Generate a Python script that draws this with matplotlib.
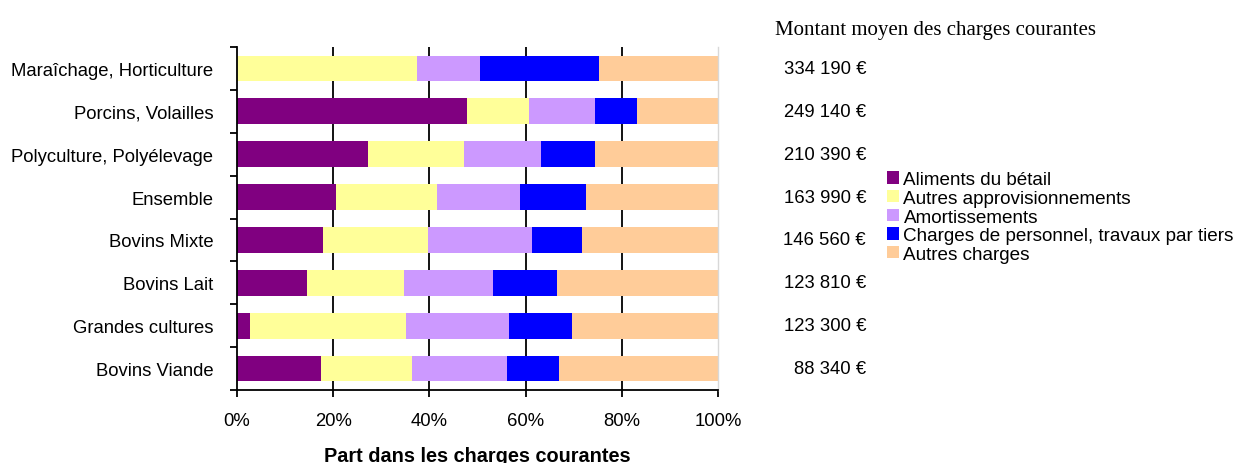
import numpy as np
import matplotlib.pyplot as plt
from matplotlib.ticker import FixedLocator, PercentFormatter

plt.rcParams['font.family'] = ['Liberation Sans', 'DejaVu Sans']

# bottom to top
categories = ['Bovins Viande', 'Grandes cultures', 'Bovins Lait', 'Bovins Mixte',
              'Ensemble', 'Polyculture, Polyélevage', 'Porcins, Volailles',
              'Maraîchage, Horticulture']
montants = ['88 340 €', '123 300 €', '123 810 €', '146 560 €',
            '163 990 €', '210 390 €', '249 140 €', '334 190 €']

aliments = [17.5, 2.7, 14.6, 17.9, 20.6, 27.2, 47.8, 0.0]
autres_appro = [18.9, 32.4, 20.1, 21.8, 21.0, 20.0, 12.9, 37.4]
amortissements = [19.7, 21.4, 18.5, 21.6, 17.2, 16.0, 13.7, 13.1]
personnel = [10.8, 13.1, 13.3, 10.4, 13.8, 11.2, 8.8, 24.8]
autres_charges = [33.1, 30.4, 33.5, 28.3, 27.4, 25.6, 16.8, 24.7]

series = [
    ('Aliments du bétail', aliments, '#800080'),
    ('Autres approvisionnements', autres_appro, '#FFFF99'),
    ('Amortissements', amortissements, '#CC99FF'),
    ('Charges de personnel, travaux par tiers', personnel, '#0000FF'),
    ('Autres charges', autres_charges, '#FFCC99'),
]

fs = 13.3

fig = plt.figure(figsize=(12.52, 4.64), dpi=100)
ax = fig.add_axes([0.1893, 0.1573, 0.3842, 0.7392])

y = np.arange(len(categories))
left = np.zeros(len(categories))
handles = []
for name, vals, col in series:
    vals = np.array(vals)
    b = ax.barh(y, vals, left=left, height=0.6, color=col, label=name, zorder=2)
    handles.append(b)
    left += vals

ax.set_xlim(0, 100)
ax.set_ylim(-0.5, len(categories) - 0.5)

# vertical grid lines behind the bars
for gx in [20, 40, 60, 80]:
    ax.axvline(gx, color='black', lw=1.3, zorder=1)

ax.spines['top'].set_visible(False)
ax.spines['right'].set_color('#d8d8d8')
ax.spines['right'].set_linewidth(1.0)
ax.spines['left'].set_linewidth(1.3)
ax.spines['bottom'].set_linewidth(1.3)

ax.xaxis.set_major_locator(FixedLocator([0, 20, 40, 60, 80, 100]))
ax.xaxis.set_major_formatter(PercentFormatter(decimals=0))
ax.tick_params(axis='x', direction='out', length=5, width=1.3, pad=11, labelsize=fs)

ax.set_yticks(y)
ax.set_yticklabels(categories)
ax.yaxis.set_minor_locator(FixedLocator(np.arange(-0.5, len(categories), 1.0)))
ax.tick_params(axis='y', which='major', length=0, pad=17, labelsize=fs)
ax.tick_params(axis='y', which='minor', length=5, width=1.3, direction='out')

ax.set_xlabel('Part dans les charges courantes', fontsize=14.3, fontweight='bold', labelpad=12)

for yi, m in zip(y, montants):
    ax.text(1.3077, yi, m, transform=ax.get_yaxis_transform(), ha='right', va='center',
            fontsize=fs)

fig.text(0.619, 0.935, 'Montant moyen des charges courantes', family='Liberation Serif',
         fontsize=15, ha='left', va='center')

fig.legend(handles=handles, loc='upper left', bbox_to_anchor=(0.7085, 0.629),
           frameon=False, fontsize=13.6, handlelength=0.62, handleheight=0.62,
           handletextpad=0.25, labelspacing=0.09, borderpad=0, borderaxespad=0)

fig.savefig('out.png', dpi=100)
